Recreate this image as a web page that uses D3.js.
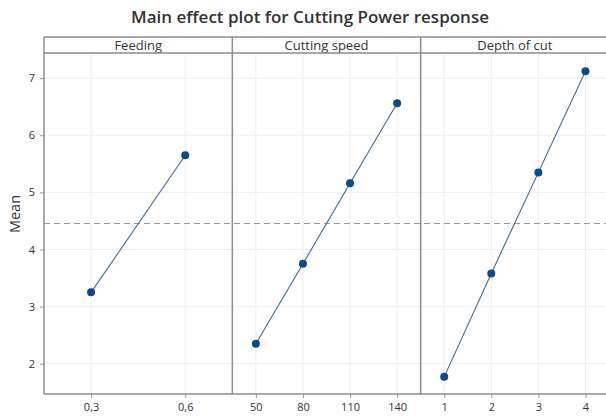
<!DOCTYPE html>
<html><head><meta charset="utf-8">
<script src="https://cdn.jsdelivr.net/npm/d3@7"></script>
<style>body{margin:0;background:#fff}svg{display:block}</style>
</head><body>
<script>
const title = "Main effect plot for Cutting Power response";
const yLabel = "Mean";
const factors = ["Feeding", "Cutting speed", "Depth of cut"];
const feedLevels = ["0,3", "0,6"];
const feedMeans = [3.25, 5.65];
const speedLevels = ["50", "80", "110", "140"];
const speedMeans = [2.35, 3.75, 5.16, 6.56];
const depthLevels = ["1", "2", "3", "4"];
const depthMeans = [1.77, 3.58, 5.35, 7.12];
const grandMean = 4.455;
const yTicks = [2, 3, 4, 5, 6, 7];

const panels = [
  {name: factors[0], levels: feedLevels, means: feedMeans},
  {name: factors[1], levels: speedLevels, means: speedMeans},
  {name: factors[2], levels: depthLevels, means: depthMeans}
];

const W = 606, H = 417;
const mLeft = 44, mRight = 609, mTop = 37, stripH = 16, mBottom = 394;
const svg = d3.select("body").append("svg").attr("width", W).attr("height", H);
const font = "'Open Sans', 'Noto Sans', sans-serif";

const y = d3.scaleLinear().domain([1.47, 7.44]).range([mBottom, mTop + stripH]);
const panelX = d3.scaleBand().domain(factors).range([mLeft, mRight]).paddingInner(0).paddingOuter(0);

// gridlines horizontal
svg.append("g").selectAll("line").data(yTicks).join("line")
  .attr("x1", mLeft).attr("x2", mRight)
  .attr("y1", d => y(d)).attr("y2", d => y(d))
  .attr("stroke", "#efefef").attr("stroke-width", 1);

panels.forEach(p => {
  const x0 = panelX(p.name);
  const x = d3.scalePoint().domain(p.levels).range([x0, x0 + panelX.bandwidth()]).padding(0.5);
  p.x = x;
  const g = svg.append("g");
  g.selectAll("line.vg").data(p.levels).join("line").attr("class", "vg")
    .attr("x1", d => x(d)).attr("x2", d => x(d))
    .attr("y1", mTop + stripH).attr("y2", mBottom)
    .attr("stroke", "#efefef").attr("stroke-width", 1);
});

// mean dashed line
svg.append("line")
  .attr("x1", mLeft).attr("x2", mRight)
  .attr("y1", y(grandMean)).attr("y2", y(grandMean))
  .attr("stroke", "#999").attr("stroke-width", 1).attr("stroke-dasharray", "6,4");

panels.forEach(p => {
  const x = p.x;
  const g = svg.append("g");
  const pts = p.levels.map((l, i) => [x(l), y(p.means[i])]);
  g.append("path").attr("d", d3.line()(pts))
    .attr("fill", "none").attr("stroke", "#46698c").attr("stroke-width", 1.1);
  g.selectAll("circle").data(p.levels).join("circle")
    .attr("cx", d => x(d)).attr("cy", (d, i) => y(p.means[i])).attr("r", 4)
    .attr("fill", "#0d4a86");
  const ax = svg.append("g").attr("transform", `translate(0,${mBottom})`)
    .call(d3.axisBottom(x).tickSize(4).tickPadding(5));
  ax.select(".domain").remove();
  ax.selectAll(".tick line").attr("stroke", "#999");
  ax.selectAll("text").attr("fill", "#333").style("font-family", font).style("font-size", "11px");
  svg.append("text").attr("x", panelX(p.name) + panelX.bandwidth() / 2).attr("y", mTop + 12.5)
    .attr("text-anchor", "middle").attr("fill", "#333")
    .style("font-family", font).style("font-size", "13px").text(p.name);
});

// y axis
const ay = svg.append("g").attr("transform", `translate(${mLeft},0)`)
  .call(d3.axisLeft(y).tickValues(yTicks).tickSize(4).tickPadding(5).tickFormat(d3.format("d")));
ay.select(".domain").remove();
ay.selectAll(".tick line").attr("stroke", "#999");
ay.selectAll("text").attr("fill", "#333").style("font-family", font).style("font-size", "11px");

// frames
const fr = svg.append("g").attr("stroke", "#8c8c8c").attr("stroke-width", 1.5).attr("fill", "none");
fr.append("line").attr("x1", mLeft).attr("x2", mRight).attr("y1", mTop).attr("y2", mTop);
fr.append("line").attr("x1", mLeft).attr("x2", mRight).attr("y1", mTop + stripH).attr("y2", mTop + stripH);
fr.append("line").attr("x1", mLeft).attr("x2", mRight).attr("y1", mBottom).attr("y2", mBottom);
factors.forEach(f => {
  fr.append("line").attr("x1", panelX(f)).attr("x2", panelX(f)).attr("y1", mTop).attr("y2", mBottom);
});

// title
svg.append("text").attr("x", 310).attr("y", 23).attr("text-anchor", "middle")
  .attr("fill", "#333").style("font-family", font).style("font-size", "17px")
  .style("font-weight", "600").text(title);

// y label
svg.append("text").attr("transform", `translate(20,214) rotate(-90)`)
  .attr("text-anchor", "middle").attr("fill", "#333")
  .style("font-family", font).style("font-size", "14.5px").text(yLabel);
</script>
</body></html>
